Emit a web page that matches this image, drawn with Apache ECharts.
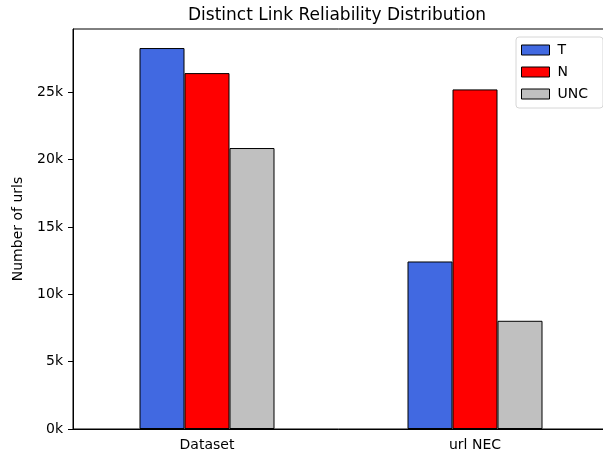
<!DOCTYPE html>
<html>
<head>
<meta charset="utf-8">
<script src="https://cdn.jsdelivr.net/npm/echarts@6/dist/echarts.min.js"></script>
<style>
html,body{margin:0;padding:0;background:#fff;}
#chart{width:603px;height:459px;}
</style>
</head>
<body>
<div id="chart"></div>
<script>
const categories = ['Dataset', 'url NEC'];
const seriesNames = ['T', 'N', 'UNC'];
const tValues = [28270, 12430];
const nValues = [26410, 25200];
const uncValues = [20850, 8030];
const yTicks = [0, 5000, 10000, 15000, 20000, 25000];
const yMax = 29683;

const FONT = 'DejaVu Sans';
const colors = ['#4169E1', '#FF0000', '#C0C0C0'];
const dataSets = [tValues, nValues, uncValues];

const chart = echarts.init(document.getElementById('chart'), null, {renderer: 'canvas'});
chart.setOption({
  animation: false,
  backgroundColor: '#ffffff',
  title: {
    text: 'Distinct Link Reliability Distribution',
    left: 183, top: 2,
    textStyle: {fontFamily: FONT, fontSize: 17, fontWeight: 'normal', color: '#000'}
  },
  legend: {
    orient: 'vertical',
    left: 516, top: 37,
    padding: [5, 15, 6, 5],
    icon: 'rect',
    itemWidth: 28, itemHeight: 10, itemGap: 6,
    borderColor: '#d6d6d6', borderWidth: 1, borderRadius: 3,
    backgroundColor: 'rgba(255,255,255,0.8)',
    textStyle: {fontFamily: FONT, fontSize: 14, color: '#000', lineHeight: 16, padding: [0,0,0,3]},
    data: seriesNames,
    itemStyle: {borderColor: '#000', borderWidth: 1}
  },
  grid: {
    left: 73, top: 29, width: 536, height: 400,
    show: true, borderColor: '#000', borderWidth: 1, backgroundColor: 'transparent',
    containLabel: false,
    outerBoundsMode: 'none'
  },
  xAxis: {
    type: 'category',
    data: categories,
    boundaryGap: true,
    axisLine: {lineStyle: {color: '#000', width: 1}},
    axisTick: {alignWithLabel: true, length: 5, lineStyle: {color: '#000'}},
    axisLabel: {fontFamily: FONT, fontSize: 14, color: '#000', margin: 9}
  },
  yAxis: {
    type: 'value',
    min: 0, max: yMax, interval: 5000,
    name: 'Number of urls',
    nameLocation: 'middle',
    nameGap: 48,
    nameTextStyle: {fontFamily: FONT, fontSize: 14, color: '#000'},
    splitLine: {show: false},
    axisLine: {show: true, lineStyle: {color: '#000', width: 1}},
    axisTick: {show: true, length: 5, lineStyle: {color: '#000'}, customValues: yTicks},
    axisLabel: {
      fontFamily: FONT, fontSize: 14, color: '#000', margin: 10,
      customValues: yTicks,
      formatter: v => (v / 1000) + 'k'
    }
  },
  series: seriesNames.map((name, i) => ({
    name: name,
    type: 'bar',
    data: dataSets[i],
    barWidth: 45,
    barGap: '0%',
    itemStyle: {color: colors[i], borderColor: '#000', borderWidth: 1}
  }))
});
</script>
</body>
</html>
